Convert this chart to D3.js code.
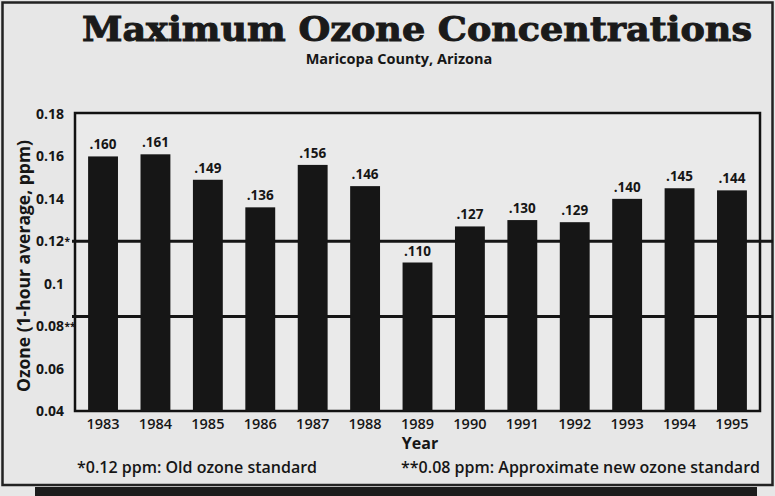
<!DOCTYPE html>
<html>
<head>
<meta charset="utf-8">
<script src="https://cdn.jsdelivr.net/npm/d3@7"></script>
<style>
  html, body { margin: 0; padding: 0; background: #e7e7e7; }
  svg { display: block; }
</style>
</head>
<body>
<svg id="chart" width="775" height="496"></svg>
<script>
// ---- data ----
const years = ["1983","1984","1985","1986","1987","1988","1989","1990","1991","1992","1993","1994","1995"];
const ozone = [0.160, 0.161, 0.149, 0.136, 0.156, 0.146, 0.110, 0.127, 0.130, 0.129, 0.140, 0.145, 0.144];
const valueLabels = [".160", ".161", ".149", ".136", ".156", ".146", ".110", ".127", ".130", ".129", ".140", ".145", ".144"];
const yTicks = [0.04, 0.06, 0.08, 0.10, 0.12, 0.14, 0.16, 0.18];
const yTickLabels = ["0.04", "0.06", "0.08**", "0.1", "0.12*", "0.14", "0.16", "0.18"];
const standardLines = [0.12, 0.0845]; // as drawn in the reference (old standard, approx. new standard)
const title = "Maximum Ozone Concentrations";
const subtitle = "Maricopa County, Arizona";
const xTitle = "Year";
const yTitle = "Ozone (1-hour average, ppm)";
const notes = ["*0.12 ppm: Old ozone standard", "**0.08 ppm: Approximate new ozone standard"];

// ---- layout ----
const svg = d3.select("#chart");
const W = 775, H = 496;
const plot = { left: 75, right: 760, top: 113, bottom: 411 };
const sans = "'Open Sans', 'Noto Sans', sans-serif";
const ink = "#161616";

svg.append("rect").attr("width", W).attr("height", H).attr("fill", "#e7e7e7");

// outer frame
svg.append("rect").attr("x", 2.5).attr("y", 2.5).attr("width", 770).attr("height", 482.5)
  .attr("fill", "none").attr("stroke", "#222").attr("stroke-width", 2.5);
// dark band of the next graphic at the bottom
svg.append("rect").attr("x", 35).attr("y", 487).attr("width", 722).attr("height", 9).attr("fill", "#1c1c1c");

const x = d3.scaleBand().domain(years).range([plot.left, plot.right]).paddingInner(0.43).paddingOuter(0.25);
const y = d3.scaleLinear().domain([0.04, 0.18]).range([plot.bottom, plot.top + 1]);

// title
svg.append("text").text(title)
  .attr("x", 82).attr("y", 40.5)
  .attr("font-family", "'DejaVu Serif', serif").attr("font-weight", 700).attr("font-size", 33)
  .attr("textLength", 670).attr("lengthAdjust", "spacingAndGlyphs")
  .attr("fill", "#1a1a1a").attr("stroke", "#1a1a1a").attr("stroke-width", 1);
svg.append("text").text(subtitle)
  .attr("x", 399).attr("y", 64).attr("text-anchor", "middle")
  .attr("font-family", sans).attr("font-weight", 700).attr("font-size", 14.5)
  .attr("fill", ink);

// plot frame
svg.append("rect").attr("x", plot.left).attr("y", plot.top)
  .attr("width", plot.right - plot.left).attr("height", plot.bottom - plot.top)
  .attr("fill", "#eaeaea").attr("stroke", "#111").attr("stroke-width", 2.5);

// standard lines
svg.selectAll("line.std").data(standardLines).join("line").attr("class", "std")
  .attr("x1", 72).attr("x2", 773)
  .attr("y1", d => y(d)).attr("y2", d => y(d))
  .attr("stroke", "#151515").attr("stroke-width", 3);

// bars
svg.selectAll("rect.bar").data(years).join("rect").attr("class", "bar")
  .attr("x", d => x(d)).attr("width", x.bandwidth())
  .attr("y", (d, i) => y(ozone[i]))
  .attr("height", (d, i) => y(0.04) - y(ozone[i]))
  .attr("fill", ink);

// value labels
svg.selectAll("text.val").data(years).join("text").attr("class", "val")
  .attr("x", d => x(d) + x.bandwidth() / 2)
  .attr("y", (d, i) => y(ozone[i]) - 7)
  .attr("text-anchor", "middle")
  .attr("font-family", sans).attr("font-weight", 700).attr("font-size", 13.5)
  .attr("fill", ink)
  .text((d, i) => valueLabels[i]);

// x tick labels
svg.selectAll("text.xt").data(years).join("text").attr("class", "xt")
  .attr("x", d => x(d) + x.bandwidth() / 2)
  .attr("y", 429)
  .attr("text-anchor", "middle")
  .attr("font-family", sans).attr("font-weight", 600).attr("font-size", 14.5)
  .attr("fill", ink)
  .text(d => d);

// y tick labels (numbers right-aligned, asterisks after)
const yt = svg.selectAll("g.yt").data(yTicks).join("g").attr("class", "yt")
  .attr("transform", d => `translate(0,${y(d) + 5})`);
yt.append("text")
  .attr("x", 64).attr("text-anchor", "end")
  .attr("font-family", sans).attr("font-weight", 700).attr("font-size", 14)
  .attr("fill", ink)
  .text((d, i) => yTickLabels[i].replace(/\*/g, ""));
yt.append("text")
  .attr("x", 64.5).attr("y", -1).attr("text-anchor", "start")
  .attr("font-family", sans).attr("font-weight", 700).attr("font-size", 10)
  .attr("fill", ink)
  .text((d, i) => (yTickLabels[i].match(/\*+/) || [""])[0]);

// axis titles
svg.append("text").text(xTitle)
  .attr("x", 420).attr("y", 449).attr("text-anchor", "middle")
  .attr("font-family", sans).attr("font-weight", 700).attr("font-size", 16)
  .attr("fill", ink);
svg.append("text").text(yTitle)
  .attr("transform", "translate(30,266) rotate(-90)")
  .attr("text-anchor", "middle")
  .attr("font-family", sans).attr("font-weight", 700).attr("font-size", 17.5)
  .attr("fill", ink);

// footnotes
svg.append("text").text(notes[0])
  .attr("x", 77).attr("y", 473).attr("text-anchor", "start")
  .attr("font-family", sans).attr("font-weight", 600).attr("font-size", 16)
  .attr("fill", ink);
svg.append("text").text(notes[1])
  .attr("x", 760).attr("y", 473).attr("text-anchor", "end")
  .attr("font-family", sans).attr("font-weight", 600).attr("font-size", 16)
  .attr("fill", ink);
</script>
</body>
</html>
